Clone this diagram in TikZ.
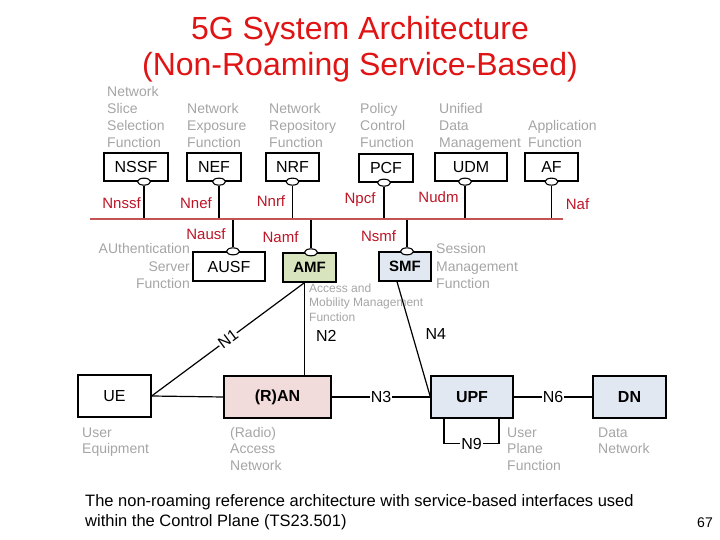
\documentclass[tikz,border=0pt]{standalone}
\usepackage{fontspec}
\setmainfont{Liberation Sans}
\usetikzlibrary{shapes.geometric,calc}
\definecolor{titlered}{RGB}{224,20,20}
\definecolor{ifred}{RGB}{190,20,38}
\definecolor{busred}{RGB}{196,84,84}
\definecolor{descgray}{RGB}{165,165,165}
\definecolor{amfgreen}{RGB}{215,228,189}
\definecolor{nfblue}{RGB}{226,232,242}
\definecolor{ranpink}{RGB}{242,220,219}
\newcommand{\fs}[1]{\fontsize{#1}{#1}\selectfont}
% name, anchor, x, first baseline, spacing, lines
\newcommand{\desclines}[6]{%
  \foreach \t [count=\i] in {#6} {%
    \node[desc, anchor=#2] (#1-\i) at (#3, {#4+#5*(\i-1)}) {\t};}}
\begin{document}
\begin{tikzpicture}[x=1pt,y=-1pt,
  nf/.style={draw=black, line width=1.3pt, fill=white, inner sep=0,
    minimum height=28, font=\fs{16}},
  big/.style={nf, minimum height=42},
  port/.style={ellipse, draw=black, fill=white, line width=1.1pt,
    minimum width=13, minimum height=7, inner sep=0},
  conn/.style={draw=black, line width=1.2pt},
  bus/.style={draw=busred, line width=2.2pt},
  iflabel/.style={text=ifred, font=\fs{15}, inner sep=0, anchor=base},
  desc/.style={text=descgray, font=\fs{14}, inner sep=0},
  sdesc/.style={desc, font=\fs{12}},
  lbl/.style={font=\fs{16}, inner sep=1},
  title/.style={text=titlered, font=\fs{32}, inner sep=0, anchor=base}]
\useasboundingbox (0,0) rectangle (720,540);

% title
\node[title] (t1) at (360,40) {5G System Architecture};
\node[title] (t2) at (360,76) {(Non-Roaming Service-Based)};

% top network functions
\node[nf, minimum width=64] (nssf) at (136,167) {NSSF};
\node[nf, minimum width=54] (nef) at (214,167) {NEF};
\node[nf, minimum width=53] (nrf) at (292.5,167) {NRF};
\node[nf, minimum width=54] (pcf) at (386,168) {PCF};
\node[nf, minimum width=72] (udm) at (471,167) {UDM};
\node[nf, minimum width=53] (af) at (551.5,167) {AF};

% lower network functions
\node[nf, minimum width=72, minimum height=29] (ausf) at (229,266.5) {AUSF};
\node[nf, minimum width=53, minimum height=29, fill=amfgreen, font=\fs{15}\bfseries] (amf) at (309.5,267.5) {AMF};
\node[nf, minimum width=52, minimum height=29, fill=nfblue, font=\fs{15}\bfseries] (smf) at (405,266.5) {SMF};

% bus
\coordinate (busL) at (90,219);
\coordinate (busR) at (563,219);

% ports
\node[port] (nssfp) at ($(nssf.south)+(8,0)$) {};
\node[port] (nefp) at ($(nef.south)+(5,0)$) {};
\node[port] (nrfp) at (nrf.south) {};
\node[port] (pcfp) at ($(pcf.south)+(-2,0)$) {};
\node[port] (udmp) at ($(udm.south)+(-6,0)$) {};
\node[port] (afp) at (af.south) {};
\node[port] (ausfp) at ($(ausf.north)+(4,0)$) {};
\node[port] (amfp) at ($(amf.north)+(1.5,0)$) {};
\node[port] (smfp) at ($(smf.north)+(2,0)$) {};

\foreach \p in {nssfp,nefp,nrfp,pcfp,udmp,afp}
  \draw[conn] (\p.south) -- (\p.south |- busL);
\foreach \p in {ausfp,amfp,smfp}
  \draw[conn] (\p.north) -- (\p.north |- busL);
\draw[bus] (busL) -- (busR);

% interface labels
\node[iflabel] (lnssf) at (121.5,208) {Nnssf};
\node[iflabel] (lnef) at (196,208) {Nnef};
\node[iflabel] (lnrf) at (271,207) {Nnrf};
\node[iflabel] (lpcf) at (360,204) {Npcf};
\node[iflabel] (ludm) at (438.5,203) {Nudm};
\node[iflabel] (laf) at (577.5,210) {Naf};
\node[iflabel] (lausf) at (206,240) {Nausf};
\node[iflabel] (lamf) at (280.5,242) {Namf};
\node[iflabel] (lsmf) at (378.5,241) {Nsmf};

% descriptions
\desclines{dnssf}{base west}{107}{97}{16.7}{Network,Slice,Selection,Function}
\desclines{dnef}{base west}{187}{114}{16.7}{Network,Exposure,Function}
\desclines{dnrf}{base west}{269}{114}{16.7}{Network,Repository,Function}
\desclines{dpcf}{base west}{360}{114}{16.7}{Policy,Control,Function}
\desclines{dudm}{base west}{439}{114}{16.7}{Unified,Data,Management}
\desclines{daf}{base west}{528}{130.7}{16.7}{Application,Function}
\desclines{dausf}{base east}{190}{254}{17}{AUthentication,Server,Function}
\desclines{dsmf}{base west}{436}{254}{17}{Session,Management,Function}
\foreach \t [count=\i] in {Access and,Mobility Management,Function}
  \node[sdesc, anchor=base west] (damf-\i) at (309, {292+14.5*(\i-1)}) {\t};
\desclines{due}{base west}{82}{437}{16.7}{User,Equipment}
\desclines{dran}{base west}{230}{437}{16.7}{(Radio),Access,Network}
\desclines{dupf}{base west}{507}{437}{16.7}{User,Plane,Function}
\desclines{ddn}{base west}{598}{437}{16.7}{Data,Network}

% user plane row
\node[big, minimum width=73] (ue) at (114.5,396) {UE};
\node[big, minimum width=107, fill=ranpink, font=\fs{16}\bfseries] (ran) at (277.5,397) {(R)AN};
\node[big, minimum width=82, fill=nfblue, font=\fs{16}\bfseries] (upf) at (472,397) {UPF};
\node[big, minimum width=73, fill=nfblue, font=\fs{16}\bfseries] (dn) at (629.5,397) {DN};

% reference points
\coordinate (amfb) at ($(amf.south)+(-5,0)$);
\coordinate (smfb) at ($(smf.south)+(-8,0)$);
\draw[conn] (ue.east) -- (ran.west);
\draw[conn] (ue.east) -- node[lbl, sloped, fill=white, inner sep=0.5, pos=0.5] (n1) {N1} (amfb);
\draw[conn] (amfb) -- node[lbl, pos=0.57, right=10pt] (n2) {N2} (amfb |- ran.north);
\draw[conn] (ran.east) -- node[lbl, fill=white] (n3) {N3} (upf.west);
\draw[conn] (smfb) -- node[lbl, pos=0.45, right=12pt] (n4) {N4} (upf.west);
\draw[conn] (upf.east) -- node[lbl, fill=white] (n6) {N6} (dn.west);
\coordinate (n9a) at ($(upf.south)+(-28,0)$);
\coordinate (n9b) at ($(upf.south)+(27,0)$);
\draw[conn] (n9a) -- ++(0,25) -- node[lbl, fill=white] (n9) {N9} ($(n9b)+(0,25)$) -- (n9b);

% caption
\node[font=\fs{16.5}, inner sep=0, anchor=base west] (cap1) at (85,506)
  {The non-roaming reference architecture with service-based interfaces used};
\node[font=\fs{16.5}, inner sep=0, anchor=base west] (cap2) at (85,526)
  {within the Control Plane (TS23.501)};
\node[font=\fs{14}, inner sep=0, anchor=base east] (pg) at (713,527) {67};
\end{tikzpicture}
\end{document}
